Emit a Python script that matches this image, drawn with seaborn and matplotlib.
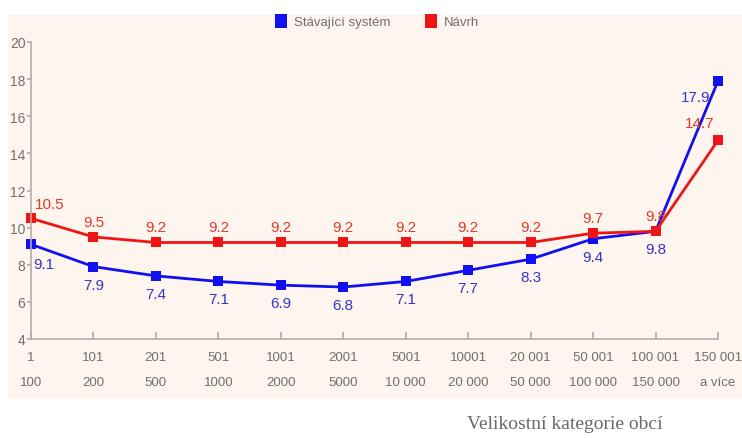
import matplotlib
matplotlib.use("Agg")
import matplotlib.pyplot as plt
import seaborn as sns
import pandas as pd
from matplotlib.patches import Rectangle, Patch

cat_low = ["1", "101", "201", "501", "1001", "2001", "5001", "10001", "20 001", "50 001", "100 001", "150 001"]
cat_high = ["100", "200", "500", "1000", "2000", "5000", "10 000", "20 000", "50 000", "100 000", "150 000", "a více"]
current = [9.1, 7.9, 7.4, 7.1, 6.9, 6.8, 7.1, 7.7, 8.3, 9.4, 9.8, 17.9]
proposal = [10.5, 9.5, 9.2, 9.2, 9.2, 9.2, 9.2, 9.2, 9.2, 9.7, 9.8, 14.7]
series_names = ["Stávající systém", "Návrh"]
yticks = [4, 6, 8, 10, 12, 14, 16, 18, 20]

sns.set_theme(style="ticks")
plt.rcParams["font.family"] = ["Liberation Sans", "DejaVu Sans"]

blue = "#1010f0"
red = "#ee1515"
blue_txt = "#3535c8"
red_txt = "#e03a2a"
grey = "#707070"
cream = "#fdf5ee"
spine = "#b4aea6"

fig = plt.figure(figsize=(7.42, 4.39), dpi=100)
fig.patch.set_facecolor("white")
bg = Rectangle((8 / 742, 1 - 400 / 439), 1 - 8 / 742, (400 - 16) / 439,
               transform=fig.transFigure, facecolor=cream, edgecolor="none", zorder=-10)
fig.patches.append(bg)

ax = fig.add_axes([31 / 742, 1 - 340 / 439, (718 - 31) / 742, (340 - 43) / 439])
ax.set_facecolor("none")
ax.set_zorder(5)

n = len(cat_low)
idx = list(range(n))
df = pd.DataFrame({
    "x": idx * 2,
    "y": current + proposal,
    "s": [series_names[0]] * n + [series_names[1]] * n,
})
sns.lineplot(data=df, x="x", y="y", hue="s", palette={series_names[0]: blue, series_names[1]: red},
             marker="s", markersize=6.5, markeredgewidth=0, linewidth=2, legend=False, ax=ax,
             clip_on=False)

ax.set_xlim(0, n - 1)
ax.set_ylim(4, 20)
ax.set_yticks(yticks)
ax.set_yticklabels([str(t) for t in yticks])
ax.set_xticks(idx)
ax.set_xticklabels([f"{a}\n{b}" for a, b in zip(cat_low, cat_high)], linespacing=2.4)
ax.set_xlabel("")
ax.set_ylabel("")

for s in ["top", "right"]:
    ax.spines[s].set_visible(False)
for s in ["left", "bottom"]:
    ax.spines[s].set_color(spine)
    ax.spines[s].set_linewidth(1.2)
ax.tick_params(axis="y", direction="out", length=3, color=spine, labelcolor=grey, labelsize=10, pad=1)
ax.tick_params(axis="x", direction="in", length=5, color=spine, labelcolor=grey, labelsize=9.5, pad=9)

# value labels
for i, (c, p) in enumerate(zip(current, proposal)):
    dx_c, dx_p = 0, 0
    dy_c, dy_p = -18, 15
    if i == 0:
        dx_c, dx_p = 13, 19
        dy_c, dy_p = -20, 14
    if i == n - 1:
        dx_c, dx_p = -22, -18
        dy_c, dy_p = -16, 17
    ax.annotate(f"{c}", (i, c), xytext=(dx_c, dy_c), textcoords="offset pixels",
                ha="center", va="center", color=blue_txt, fontsize=11)
    ax.annotate(f"{p}", (i, p), xytext=(dx_p, dy_p), textcoords="offset pixels",
                ha="center", va="center", color=red_txt, fontsize=11)

handles = [Patch(facecolor=blue, edgecolor="none"), Patch(facecolor=red, edgecolor="none")]
leg = fig.legend(handles, series_names, loc="center", bbox_to_anchor=(377 / 742, 1 - 22 / 439), ncol=2,
                 frameon=False, handlelength=0.95, handleheight=1.3, handletextpad=0.5, columnspacing=2.6,
                 fontsize=9.5)
for t in leg.get_texts():
    t.set_color(grey)

fig.text(565 / 742, 1 - 425 / 439, "Velikostní kategorie obcí", ha="center", va="center",
         family=["Liberation Serif", "DejaVu Serif"], fontsize=14, color="#6a6a6a")

fig.savefig("out.png", dpi=100)
